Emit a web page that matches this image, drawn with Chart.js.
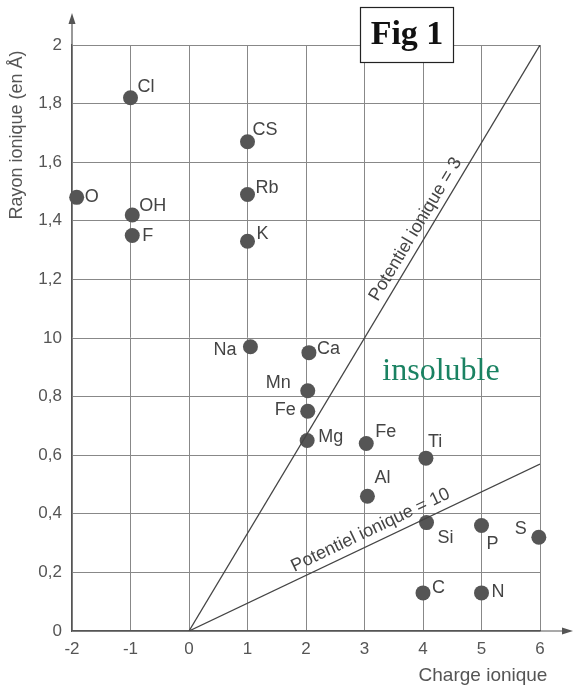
<!DOCTYPE html>
<html>
<head>
<meta charset="utf-8">
<script src="https://cdn.jsdelivr.net/npm/chart.js@4"></script>
<style>
  body { margin: 0; background: #fff; }
  #wrap { width: 574px; height: 688px; }
</style>
</head>
<body>
<div id="wrap"><canvas id="chart" width="574" height="688"></canvas></div>
<script>
// Data
const ions = ['Cl', 'O', 'OH', 'F', 'CS', 'Rb', 'K', 'Na', 'Ca', 'Mn', 'Fe', 'Mg', 'Fe', 'Ti', 'Al', 'Si', 'P', 'S', 'C', 'N'];
const charges = [-1, -1.92, -0.97, -0.97, 1, 1, 1, 1.05, 2.05, 2.03, 2.03, 2.02, 3.03, 4.05, 3.05, 4.06, 5, 5.98, 4, 5];
const rayons = [1.82, 1.48, 1.42, 1.35, 1.67, 1.49, 1.33, 0.97, 0.95, 0.82, 0.75, 0.65, 0.64, 0.59, 0.46, 0.37, 0.36, 0.32, 0.13, 0.13];
const yTickLabels = ['0', '0,2', '0,4', '0,6', '0,8', '10', '1,2', '1,4', '1,6', '1,8', '2'];
const xTickLabels = ['-2', '-1', '0', '1', '2', '3', '4', '5', '6'];
const lineCharges = [0, 6];
const rayonsPot3 = [0, 2];
const rayonsPot10 = [0, 0.57];

// label placement relative to each point: [dx, dy, align]
const labelPlacement = [
  [7, -11, 'left'], [8, 0, 'left'], [7, -9, 'left'], [10, 1, 'left'],
  [5, -12, 'left'], [8, -6, 'left'], [9, -7, 'left'], [-14, 3, 'right'],
  [8, -4, 'left'], [-17, -8, 'right'], [-12, -1, 'right'], [11, -4, 'left'],
  [9, -11, 'left'], [2, -16, 'left'], [7, -18, 'left'], [11, 15, 'left'],
  [5, 19, 'left'], [-12, -8, 'right'], [9, -5, 'left'], [10, -1, 'left']
];

const sansFont = '"Liberation Sans", Arial, sans-serif';
const serifFont = '"Liberation Serif", "Times New Roman", serif';
const ink = '#555';

const toPoints = (xs, ys) => xs.map((x, i) => ({ x: x, y: ys[i] }));

// Extra drawing: point labels, line labels, axis arrows, annotations
const annotations = {
  id: 'annotations',
  afterDatasetsDraw(chart) {
    const ctx = chart.ctx;
    const xs = chart.scales.x;
    const ys = chart.scales.y;
    ctx.save();

    // point labels
    ctx.font = '18px ' + sansFont;
    ctx.fillStyle = '#444';
    ctx.textBaseline = 'middle';
    ions.forEach((name, i) => {
      const p = labelPlacement[i];
      ctx.textAlign = p[2];
      ctx.fillText(name, xs.getPixelForValue(charges[i]) + p[0], ys.getPixelForValue(rayons[i]) + p[1]);
    });

    // labels along the two lines
    const lineLabel = (text, xEnd, yEnd, atX, shift) => {
      const x0 = xs.getPixelForValue(0), y0 = ys.getPixelForValue(0);
      const x1 = xs.getPixelForValue(xEnd), y1 = ys.getPixelForValue(yEnd);
      const ang = Math.atan2(y1 - y0, x1 - x0);
      const px = xs.getPixelForValue(atX);
      const py = ys.getPixelForValue(atX * yEnd / xEnd);
      ctx.save();
      ctx.translate(px, py);
      ctx.rotate(ang);
      ctx.textAlign = 'center';
      ctx.textBaseline = 'bottom';
      ctx.font = '18px ' + sansFont;
      ctx.fillStyle = '#444';
      ctx.fillText(text, 0, -shift);
      ctx.restore();
    };
    lineLabel('Potentiel ionique = 3', lineCharges[1], rayonsPot3[1], 4.05, 3);
    lineLabel('Potentiel ionique = 10', lineCharges[1], rayonsPot10[1], 3.2, 4);

    // axis arrows
    const left = chart.chartArea.left, bottom = chart.chartArea.bottom;
    ctx.strokeStyle = '#555';
    ctx.fillStyle = '#555';
    ctx.lineWidth = 1.2;
    ctx.beginPath();
    ctx.moveTo(left, chart.chartArea.top);
    ctx.lineTo(left, 20);
    ctx.moveTo(chart.chartArea.right, bottom);
    ctx.lineTo(566, bottom);
    ctx.stroke();
    ctx.beginPath();
    ctx.moveTo(left, 13); ctx.lineTo(left - 3.5, 24); ctx.lineTo(left + 3.5, 24); ctx.closePath();
    ctx.fill();
    ctx.beginPath();
    ctx.moveTo(573, bottom); ctx.lineTo(562, bottom - 3.5); ctx.lineTo(562, bottom + 3.5); ctx.closePath();
    ctx.fill();

    // axis titles
    ctx.fillStyle = ink;
    ctx.font = '19px ' + sansFont;
    ctx.textAlign = 'center';
    ctx.textBaseline = 'middle';
    ctx.fillText('Charge ionique', 483, 676);
    ctx.save();
    ctx.translate(17, 135);
    ctx.rotate(-Math.PI / 2);
    ctx.font = '18px ' + sansFont;
    ctx.fillText('Rayon ionique (en Å)', 0, 0);
    ctx.restore();

    // "insoluble" note
    ctx.font = '32px ' + serifFont;
    ctx.fillStyle = '#1a8262';
    ctx.fillText('insoluble', 441, 372);

    // "Fig 1" box
    ctx.fillStyle = '#fff';
    ctx.fillRect(360, 7, 94, 56);
    ctx.strokeStyle = '#222';
    ctx.lineWidth = 1.2;
    ctx.strokeRect(360.5, 7.5, 93, 55);
    ctx.fillStyle = '#111';
    ctx.font = 'bold 34px ' + serifFont;
    ctx.fillText('Fig 1', 407, 35);

    ctx.restore();
  }
};

new Chart(document.getElementById('chart'), {
  type: 'scatter',
  data: {
    datasets: [
      {
        label: 'Potentiel ionique = 3',
        data: toPoints(lineCharges, rayonsPot3),
        showLine: true,
        borderColor: '#444',
        borderWidth: 1.3,
        pointRadius: 0
      },
      {
        label: 'Potentiel ionique = 10',
        data: toPoints(lineCharges, rayonsPot10),
        showLine: true,
        borderColor: '#444',
        borderWidth: 1.3,
        pointRadius: 0
      },
      {
        label: 'Ions',
        data: toPoints(charges, rayons),
        backgroundColor: '#555',
        borderWidth: 0,
        pointRadius: 7.5,
        pointHoverRadius: 7.5,
        clip: false
      }
    ]
  },
  options: {
    responsive: false,
    animation: false,
    layout: { padding: { top: 45, right: 34, left: 0, bottom: 0 } },
    plugins: {
      legend: { display: false },
      tooltip: { enabled: false }
    },
    scales: {
      x: {
        type: 'linear',
        min: -2,
        max: 6,
        afterFit(scale) { scale.height = 57; },
        ticks: {
          stepSize: 1,
          padding: 8,
          color: ink,
          font: { family: sansFont, size: 17 },
          callback: (v, i) => xTickLabels[i]
        },
        grid: { color: '#888', lineWidth: 1, drawTicks: false },
        border: { color: '#555', width: 1.2 }
      },
      y: {
        type: 'linear',
        min: 0,
        max: 2,
        afterFit(scale) { scale.width = 72; },
        ticks: {
          stepSize: 0.2,
          padding: 10,
          color: ink,
          font: { family: sansFont, size: 17 },
          callback: (v, i) => yTickLabels[i]
        },
        grid: { color: '#888', lineWidth: 1, drawTicks: false },
        border: { color: '#555', width: 1.2 }
      }
    }
  },
  plugins: [annotations]
});
</script>
</body>
</html>
